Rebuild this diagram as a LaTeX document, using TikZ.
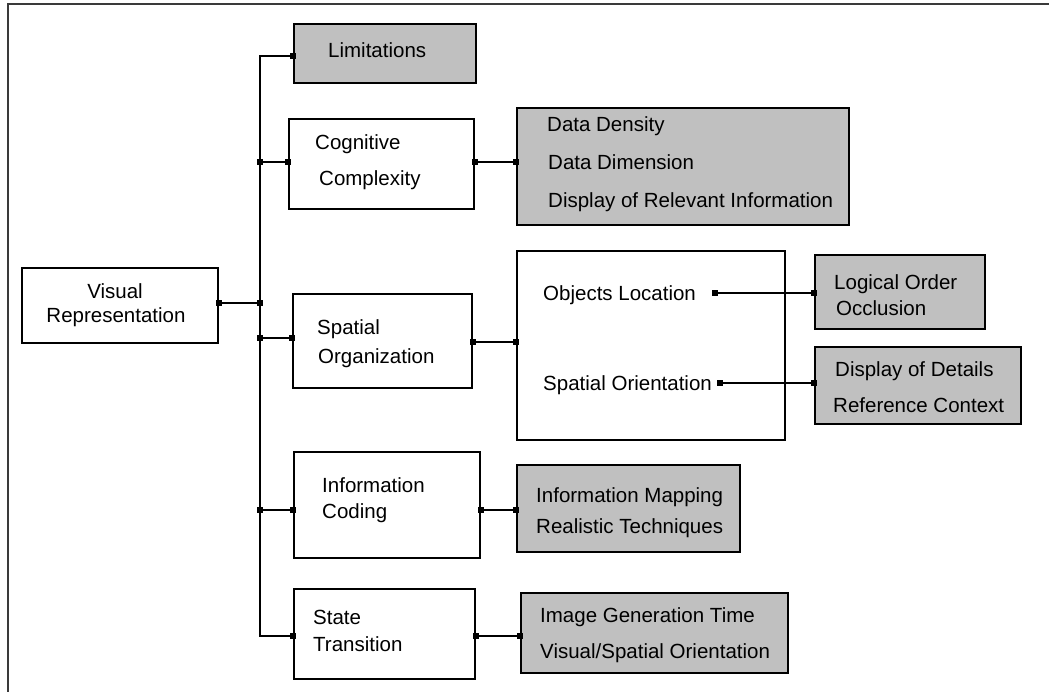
\documentclass[tikz,border=0pt]{standalone}
\usepackage{fontspec}
\setmainfont{Liberation Sans}
\usetikzlibrary{arrows.meta}
\definecolor{boxgrey}{HTML}{C0C0C0}
\definecolor{framegrey}{HTML}{3A3A3A}
\begin{document}
\begin{tikzpicture}[x=1pt,y=-1pt,
  box/.style={draw=black, line width=2pt, inner sep=0pt, anchor=north west, fill=white},
  gbox/.style={box, fill=boxgrey},
  lbl/.style={anchor=base west, inner sep=0pt, font=\fontsize{20.5}{24}\selectfont},
  sq/.tip={Square[length=6pt,width=6pt]},
  conn/.style={line width=2pt, sq-sq, shorten <=-3pt, shorten >=-3pt},
]
\useasboundingbox (0,0) rectangle (1049,692);
% frame (top and left edges visible)
\draw[framegrey, line width=2.5pt] (8,692) -- (8,4) -- (1049,4);

% boxes
\node[box,  minimum width=196pt, minimum height=75pt]  (vr)  at (21,267)  {};
\node[gbox, minimum width=182pt, minimum height=59pt]  (lim) at (293,23)  {};
\node[box,  minimum width=185pt, minimum height=90pt]  (co)  at (288,118) {};
\node[gbox, minimum width=332pt, minimum height=117pt] (dd)  at (516,107) {};
\node[box,  minimum width=179pt, minimum height=94pt]  (so)  at (292,293) {};
\node[box,  minimum width=268pt, minimum height=189pt] (big) at (516,250) {};
\node[gbox, minimum width=170pt, minimum height=74pt]  (lo)  at (814,254) {};
\node[gbox, minimum width=206pt, minimum height=77pt]  (dod) at (814,346) {};
\node[box,  minimum width=186pt, minimum height=106pt] (ic)  at (293,451) {};
\node[gbox, minimum width=223pt, minimum height=87pt]  (im)  at (516,464) {};
\node[box,  minimum width=181pt, minimum height=90pt]  (st)  at (293,588) {};
\node[gbox, minimum width=267pt, minimum height=80pt]  (ig)  at (520,592) {};

% texts
\node[lbl, anchor=base] (t-vr1) at (115,299) {Visual};
\node[lbl, anchor=base] (t-vr2) at (116,323) {Representation};
\node[lbl] (t-lim)  at (328,58)  {Limitations};
\node[lbl] (t-co1)  at (315,150) {Cognitive};
\node[lbl] (t-co2)  at (319,186) {Complexity};
\node[lbl] (t-dd1)  at (547,132) {Data Density};
\node[lbl] (t-dd2)  at (548,170) {Data Dimension};
\node[lbl] (t-dd3)  at (548,208) {Display of Relevant Information};
\node[lbl] (t-so1)  at (317,335) {Spatial};
\node[lbl] (t-so2)  at (318,363) {Organization};
\node[lbl] (t-ol)   at (543,301) {Objects Location};
\node[lbl] (t-sor)  at (543,390) {Spatial Orientation};
\node[lbl] (t-lo1)  at (834,290) {Logical Order};
\node[lbl] (t-lo2)  at (836,316) {Occlusion};
\node[lbl] (t-dod1) at (835,377) {Display of Details};
\node[lbl] (t-dod2) at (833,412) {Reference Context};
\node[lbl] (t-ic1)  at (322,492) {Information};
\node[lbl] (t-ic2)  at (322,518) {Coding};
\node[lbl] (t-im1)  at (536,502) {Information Mapping};
\node[lbl] (t-im2)  at (536,533) {Realistic Techniques};
\node[lbl] (t-st1)  at (313,624) {State};
\node[lbl] (t-st2)  at (313,651) {Transition};
\node[lbl] (t-ig1)  at (540,622) {Image Generation Time};
\node[lbl] (t-ig2)  at (540,658) {Visual/Spatial Orientation};

% connector levels
\coordinate (ylim) at (0,56);
\coordinate (yco)  at (0,162);
\coordinate (yvr)  at (0,303);
\coordinate (yso)  at (0,338);
\coordinate (yso2) at (0,342);
\coordinate (yic)  at (0,510);
\coordinate (yst)  at (0,636);
\coordinate (yol)  at (0,293);
\coordinate (ysor) at (0,383);
\coordinate (bustop) at (260,56);
\coordinate (busbot) at (260,636);
\coordinate (olend)  at (715,293);
\coordinate (sorend) at (720,383);

% bus
\draw[conn] (lim.west |- ylim) -- (bustop) -- (busbot) -- (st.west |- yst);
% branches
\draw[conn] (vr.east |- yvr) -- (bustop |- yvr);
\draw[conn] (bustop |- yco) -- (co.west |- yco);
\draw[conn] (bustop |- yso) -- (so.west |- yso);
\draw[conn] (bustop |- yic) -- (ic.west |- yic);
% right side
\draw[conn] (co.east |- yco) -- (dd.west |- yco);
\draw[conn] (so.east |- yso2) -- (big.west |- yso2);
\draw[conn] (ic.east |- yic) -- (im.west |- yic);
\draw[conn] (st.east |- yst) -- (ig.west |- yst);
\draw[conn] (olend) -- (lo.west |- yol);
\draw[conn] (sorend) -- (dod.west |- ysor);
\end{tikzpicture}
\end{document}
